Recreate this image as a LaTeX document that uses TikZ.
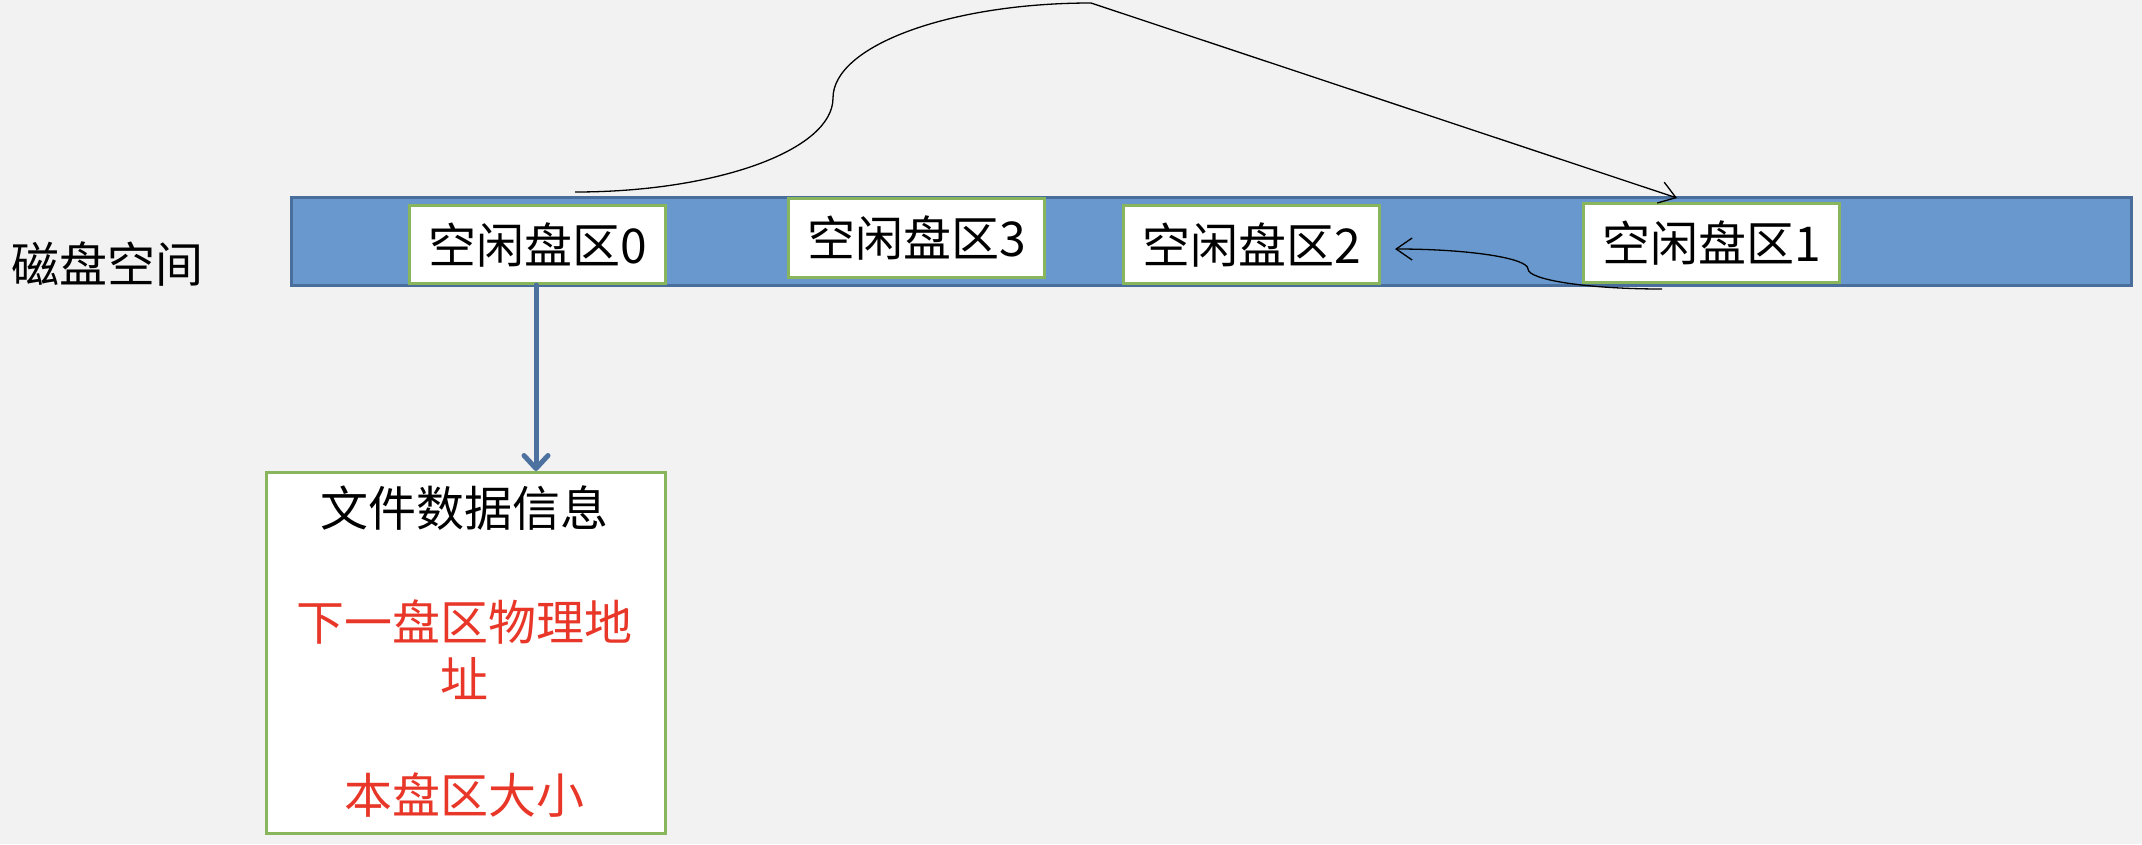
\documentclass[tikz,border=0pt]{standalone}
\usepackage{fontspec}
\newfontfamily\cjk{Noto Sans CJK SC}
\usetikzlibrary{arrows.meta}
\definecolor{bgc}{RGB}{242,242,242}
\definecolor{barfill}{RGB}{104,152,205}
\definecolor{barline}{RGB}{74,110,155}
\definecolor{boxline}{RGB}{137,182,92}
\definecolor{redtxt}{RGB}{232,55,40}
\definecolor{arrowblue}{RGB}{78,114,160}
\begin{document}
\begin{tikzpicture}[x=1pt,y=-1pt,
  txt/.style={font=\cjk\fontsize{48}{56}\selectfont, inner sep=0pt},
  sector/.style={draw=boxline, line width=3pt, fill=white, minimum width=256pt, minimum height=78pt, inner sep=0pt, anchor=north west},
  thinarrow/.style={draw=black, line width=1.3pt, -{Straight Barb[length=16pt,width=22pt,line width=1.3pt]}}
]
\fill[bgc] (0,0) rectangle (2142,844);
\useasboundingbox (0,0) rectangle (2142,844);

% disk bar
\node[draw=barline, line width=3pt, fill=barfill, minimum width=1840pt, minimum height=88pt, inner sep=0pt, anchor=north west] (bar) at (290,196) {};

\node[txt, anchor=center] (label) at (108,264) {磁盘空间};

% sectors
\node[sector] (s0) at (408,204) {};
\node[sector, minimum height=79pt] (s3) at (787,197) {};
\node[sector] (s2) at (1122,204) {};
\node[sector, minimum height=79pt] (s1) at (1582,202) {};
\node[txt] at (s0.center) {空闲盘区0};
\node[txt] at (s3.center) {空闲盘区3};
\node[txt] at (s2.center) {空闲盘区2};
\node[txt] at (s1.center) {空闲盘区1};

% data box
\node[draw=boxline, line width=3pt, fill=white, minimum width=399pt, minimum height=361pt, inner sep=0pt, anchor=north west] (data) at (265,471) {};
\node[txt] (t1) at (464,508) {文件数据信息};
\node[txt, text=redtxt] (t2) at (464,622) {下一盘区物理地};
\node[txt, text=redtxt] (t3) at (464,679) {址};
\node[txt, text=redtxt] (t4) at (464,795) {本盘区大小};

% vertical arrow
\draw[arrowblue, line width=5pt, line cap=round, -{Straight Barb[length=13pt,width=24pt,line width=5pt,round]}] (s0.south -| 536,0) -- (data.north -| 536,0);

% curve 0 -> 1
\coordinate (c0) at (575,192);
\coordinate (c0m) at (833,98);
\coordinate (c0t) at (1091,3);
\coordinate (c1e) at (1677,198);
\draw[thinarrow] (c0) .. controls (717,192) and (833,150) .. (c0m)
  .. controls (833,46) and (949,3) .. (c0t) -- (c1e);

% curve 1 -> 2
\coordinate (d1) at (1662,289);
\coordinate (d1m) at (1528,269);
\coordinate (d2e) at (1395,249);
\draw[thinarrow] (d1) .. controls (1588,289) and (1528,280) .. (d1m)
  .. controls (1528,258) and (1468,249) .. (d2e);
\end{tikzpicture}
\end{document}
